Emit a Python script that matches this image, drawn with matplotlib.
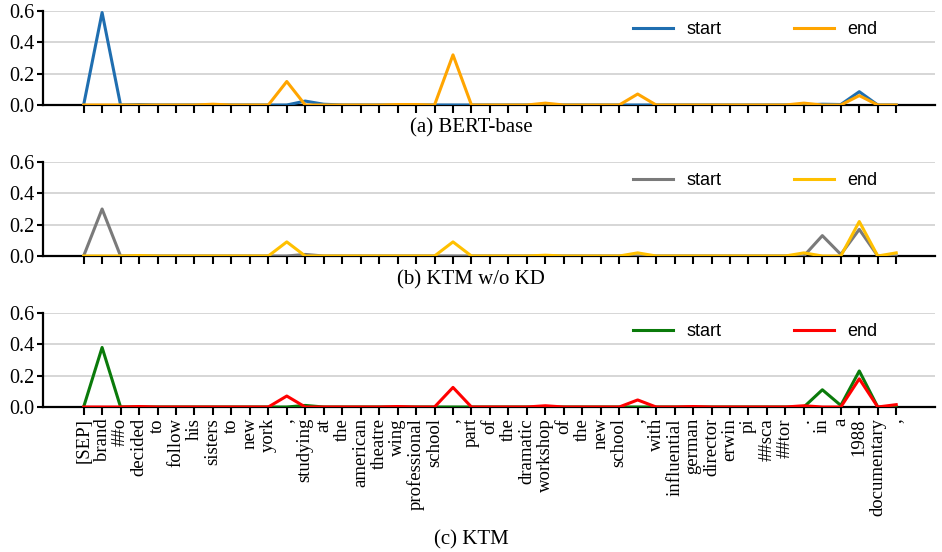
import matplotlib
matplotlib.use("Agg")
import matplotlib.pyplot as plt
import numpy as np

tokens = ["[SEP]", "brand", "##o", "decided", "to", "follow", "his", "sisters", "to", "new",
          "york", ",", "studying", "at", "the", "american", "theatre", "wing", "professional",
          "school", ",", "part", "of", "the", "dramatic", "workshop", "of", "the", "new",
          "school", ",", "with", "influential", "german", "director", "erwin", "pi", "##sca",
          "##tor", ".", "in", "a", "1988", "documentary", ","]

bert_start = [0.0, 0.59, 0.0, 0.003, 0.0, 0.0, 0.0, 0.0, 0.0, 0.0,
              0.0, 0.0, 0.025, 0.005, 0.0, 0.0, 0.0, 0.0, 0.0, 0.0,
              0.0, 0.0, 0.0, 0.0, 0.0, 0.0, 0.0, 0.0, 0.0, 0.0,
              0.0, 0.0, 0.0, 0.0, 0.0, 0.0, 0.0, 0.0, 0.0, 0.0,
              0.005, 0.003, 0.085, 0.0, 0.0]
bert_end = [0.0, 0.0, 0.0, 0.0, 0.0, 0.0, 0.0, 0.005, 0.0, 0.0,
            0.0, 0.15, 0.0, 0.0, 0.0, 0.0, 0.0, 0.003, 0.003, 0.0,
            0.32, 0.0, 0.0, 0.0, 0.0, 0.012, 0.0, 0.0, 0.0, 0.0,
            0.07, 0.0, 0.0, 0.0, 0.0, 0.0, 0.0, 0.0, 0.0, 0.012,
            0.0, 0.0, 0.06, 0.0, 0.0]

nokd_start = [0.0, 0.30, 0.0, 0.0, 0.0, 0.0, 0.0, 0.0, 0.0, 0.0,
              0.0, 0.0, 0.01, 0.0, 0.0, 0.0, 0.0, 0.0, 0.0, 0.0,
              0.0, 0.0, 0.0, 0.0, 0.0, 0.0, 0.0, 0.0, 0.0, 0.0,
              0.0, 0.0, 0.0, 0.0, 0.0, 0.0, 0.0, 0.0, 0.0, 0.0,
              0.13, 0.01, 0.17, 0.0, 0.0]
nokd_end = [0.0, 0.0, 0.0, 0.003, 0.0, 0.0, 0.0, 0.0, 0.0, 0.0,
            0.0, 0.09, 0.0, 0.0, 0.0, 0.0, 0.0, 0.0, 0.0, 0.0,
            0.09, 0.0, 0.0, 0.0, 0.0, 0.005, 0.0, 0.0, 0.0, 0.0,
            0.02, 0.0, 0.0, 0.0, 0.0, 0.0, 0.0, 0.0, 0.0, 0.02,
            0.0, 0.0, 0.22, 0.0, 0.02]

ktm_start = [0.0, 0.38, 0.0, 0.0, 0.0, 0.0, 0.0, 0.0, 0.0, 0.0,
             0.0, 0.0, 0.01, 0.0, 0.0, 0.0, 0.0, 0.0, 0.0, 0.0,
             0.0, 0.0, 0.0, 0.0, 0.0, 0.0, 0.0, 0.0, 0.0, 0.0,
             0.0, 0.0, 0.0, 0.0, 0.0, 0.0, 0.0, 0.0, 0.0, 0.0,
             0.11, 0.01, 0.23, 0.0, 0.0]
ktm_end = [0.0, 0.0, 0.0, 0.003, 0.0, 0.0, 0.0, 0.0, 0.0, 0.0,
           0.0, 0.07, 0.0, 0.0, 0.0, 0.0, 0.0, 0.003, 0.0, 0.0,
           0.125, 0.0, 0.0, 0.0, 0.0, 0.008, 0.0, 0.0, 0.0, 0.0,
           0.045, 0.0, 0.0, 0.003, 0.0, 0.0, 0.0, 0.0, 0.0, 0.008,
           0.0, 0.0, 0.18, 0.0, 0.015]

captions = ["(a) BERT-base", "(b) KTM w/o KD", "(c) KTM"]
yticks = [0.0, 0.2, 0.4, 0.6]

panels = [
    (bert_start, bert_end, "#1f6eb0", "#ffa500"),
    (nokd_start, nokd_end, "#7a7a7a", "#ffc000"),
    (ktm_start, ktm_end, "#0a7a0a", "#ff0000"),
]

serif = ["Liberation Serif", "DejaVu Serif"]
sans = ["Liberation Sans", "DejaVu Sans"]

W, H = 942, 552
fig = plt.figure(figsize=(W / 100, H / 100), dpi=100)

bottoms_px = [105, 256, 407]
ax_h_px = 94
left_px, right_px = 43, 935
caption_y_px = [128, 280, 540]

x = np.arange(len(tokens))
for i, (s, e, cs, ce) in enumerate(panels):
    ax = fig.add_axes([left_px / W, 1 - bottoms_px[i] / H, (right_px - left_px) / W, ax_h_px / H])
    ax.plot(x, s, color=cs, lw=2.2, label="start", zorder=3)
    ax.plot(x, e, color=ce, lw=2.2, label="end", zorder=3)
    ax.set_xlim(-2.2, 46.1)
    ax.set_ylim(0, 0.6)
    ax.set_yticks(yticks)
    ax.set_yticklabels([f"{v:.1f}" for v in yticks], fontfamily=serif, fontsize=14.5)
    ax.set_xticks(x)
    if i == 2:
        ax.set_xticklabels(tokens, rotation=90, fontfamily=serif, fontsize=13.5)
    else:
        ax.set_xticklabels([])
    ax.grid(axis="y", color="#d0d0d0", lw=1.2, zorder=0)
    ax.set_axisbelow(True)
    for sp in ["top", "right"]:
        ax.spines[sp].set_visible(False)
    ax.spines["left"].set_linewidth(1.6)
    ax.spines["bottom"].set_linewidth(1.6)
    ax.tick_params(axis="x", direction="out", length=6, width=1.5, pad=2)
    ax.tick_params(axis="y", direction="out", length=4, width=1.5, pad=2)
    ax.legend(loc="upper right", bbox_to_anchor=(0.944, 0.97), ncol=2, frameon=False,
              prop={"family": sans, "size": 13}, handlelength=2.2, borderaxespad=0,
              columnspacing=4.0, handletextpad=0.78)
    fig.text(0.5, 1 - caption_y_px[i] / H, captions[i], ha="center", va="center",
             fontfamily=serif, fontsize=15)

fig.savefig("out.png", dpi=100)
